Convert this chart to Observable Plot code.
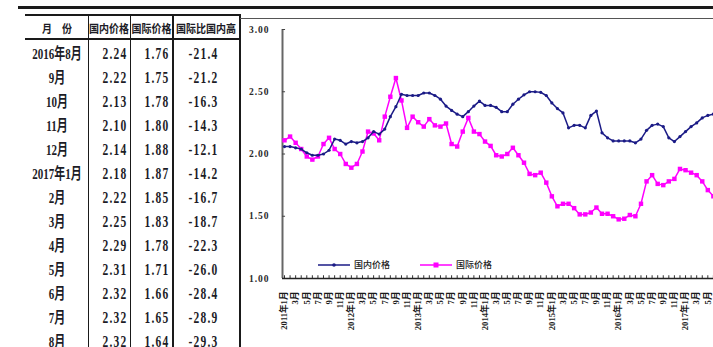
<!DOCTYPE html>
<html><head><meta charset="utf-8">
<script src="https://cdn.jsdelivr.net/npm/d3@7"></script>
<script src="https://cdn.jsdelivr.net/npm/@observablehq/plot@0.6"></script>
<style>
html,body{margin:0;padding:0;background:#fff;overflow:hidden;width:713px;height:347px}
#wrap{position:relative;width:713px;height:347px;overflow:hidden;background:#fff}
.ln{position:absolute;background:#1a1a1a}
.cell{position:absolute;white-space:nowrap;color:#1c1c26;font-family:'Liberation Serif','Noto Sans CJK SC',serif;font-weight:bold;transform-origin:center center}
#chart{position:absolute;left:240px;top:18px}
#chart g[aria-label="y-axis tick label"] text{font-family:'Liberation Serif',serif;font-weight:bold;font-size:9.5px;letter-spacing:1px;fill:#2a2a2a}
#chart g[aria-label="x-axis tick label"] text{font-family:'Liberation Serif','Noto Sans CJK SC',serif;font-weight:bold;font-size:8.6px;fill:#1a1a1a}
.leg{position:absolute;font-family:'Noto Sans CJK SC',sans-serif;font-weight:500;font-size:9px;color:#222;white-space:nowrap;line-height:12px}
</style></head><body><div id="wrap"></div>
<script>
// ---------- table data ----------
const tableHeaders = ["月　份", "国内价格", "国际价格", "国际比国内高"];
const tableMonths = ["2016年8月","9月","10月","11月","12月","2017年1月","2月","3月","4月","5月","6月","7月","8月"];
const tableDomestic = ["2.24","2.22","2.13","2.10","2.14","2.18","2.22","2.25","2.29","2.31","2.32","2.32","2.32"];
const tableIntl = ["1.76","1.75","1.78","1.80","1.88","1.87","1.85","1.83","1.78","1.71","1.66","1.65","1.64"];
const tableDiff = ["-21.4","-21.2","-16.3","-14.3","-12.1","-14.2","-16.7","-18.7","-22.3","-26.0","-28.4","-28.9","-29.3"];

// ---------- chart data (monthly, 2011年1月 .. 2017年8月) ----------
const startYear = 2011;
const seriesNames = ["国内价格", "国际价格"];
const domestic = [
  2.06, 2.06, 2.05, 2.04, 2.01, 1.99, 1.99, 2.00, 2.03, 2.12, 2.11, 2.08,
  2.10, 2.09, 2.10, 2.13, 2.18, 2.16, 2.20, 2.30, 2.38, 2.48, 2.47, 2.47,
  2.47, 2.49, 2.49, 2.47, 2.44, 2.385, 2.35, 2.32, 2.30, 2.34, 2.385, 2.425,
  2.39, 2.39, 2.375, 2.34, 2.34, 2.40, 2.44, 2.475, 2.50, 2.50, 2.495, 2.47,
  2.41, 2.365, 2.33, 2.21, 2.23, 2.23, 2.21, 2.31, 2.345, 2.17, 2.13, 2.105,
  2.105, 2.105, 2.105, 2.09, 2.12, 2.19, 2.23, 2.24, 2.22, 2.13, 2.10, 2.14,
  2.18, 2.22, 2.25, 2.29, 2.31, 2.32, 2.32, 2.32
];
const international = [
  2.11, 2.14, 2.09, 2.04, 1.98, 1.955, 1.98, 2.08, 2.13, 2.04, 2.00, 1.92,
  1.89, 1.92, 2.02, 2.18, 2.165, 2.11, 2.30, 2.46, 2.61, 2.43, 2.21, 2.30,
  2.255, 2.22, 2.28, 2.23, 2.22, 2.245, 2.08, 2.06, 2.18, 2.29, 2.18, 2.16,
  2.10, 2.065, 1.99, 1.98, 2.00, 2.05, 1.99, 1.93, 1.84, 1.83, 1.85, 1.77,
  1.66, 1.58, 1.60, 1.60, 1.565, 1.515, 1.515, 1.53, 1.57, 1.52, 1.52, 1.50,
  1.475, 1.48, 1.51, 1.50, 1.60, 1.78, 1.83, 1.76, 1.75, 1.78, 1.80, 1.88,
  1.87, 1.85, 1.83, 1.78, 1.71, 1.66, 1.65, 1.64
];
const yTicks = [1.00, 1.50, 2.00, 2.50, 3.00];
const colors = ["#1b1b86", "#ff00ff"];

const monthLabel = i => {
  const y = startYear + Math.floor(i / 12), m = i % 12 + 1;
  return m === 1 ? `${y}年1月` : `${m}月`;
};
const monthIdx = d3.range(domestic.length);
const xTickIdx = monthIdx.filter(i => i % 2 === 0);
const xTickLabels = xTickIdx.map(monthLabel);

const wrap = d3.select("#wrap");
function hline(x, y, w, h) { wrap.append("div").attr("class","ln").style("left",x+"px").style("top",y+"px").style("width",w+"px").style("height",h+"px"); }

// page decorations
hline(18, 6, 695, 3);          // thick top rule
hline(25, 14, 215, 2);         // table top
hline(25, 38, 215, 2);         // header bottom
hline(87.5, 14, 1.5, 333);     // column lines
hline(129.5, 14, 1.5, 333);
hline(172, 14, 1.5, 333);
hline(238.5, 14, 2, 333);      // chart frame left
wrap.append("div").attr("class","ln").style("left","240px").style("top","18px").style("width","473px").style("height","1px").style("background","#555");

// table cells
function cell(text, left, width, yc, align, size, sy, ls) {
  wrap.append("div").attr("class","cell")
    .style("left", left+"px").style("width", width+"px")
    .style("top", (yc-8)+"px").style("height","16px").style("line-height","16px")
    .style("text-align", align).style("font-size", size+"px")
    .style("letter-spacing", (ls||0)+"px")
    .style("transform", `scaleY(${sy})`)
    .text(text);
}
const hdrCols = [[25,64],[88,42],[130,43],[173,66]];
tableHeaders.forEach((h,k)=>cell(h, hdrCols[k][0], hdrCols[k][1], 29.5, "center", 10, 1.15, 0));
tableMonths.forEach((m,r)=>{
  const yc = 53 + 24*r;
  cell(m, 25, 64, yc, "center", 11, 1.4, 0);
  cell(tableDomestic[r], 86, 41.5, yc, "right", 11.5, 1.4, 1.2);
  cell(tableIntl[r], 128, 41.5, yc, "right", 11.5, 1.4, 1.2);
  cell(tableDiff[r], 172, 46.5, yc, "right", 11.5, 1.4, 1.2);
});

// chart
const domData = monthIdx.map(i => ({i, v: domestic[i], s: seriesNames[0]}));
const intlData = monthIdx.map(i => ({i, v: international[i], s: seriesNames[1]}));
const x0 = -0.36;
const chart = Plot.plot({
  width: 500, height: 329,
  marginLeft: 42, marginRight: 10.4, marginTop: 11, marginBottom: 69,
  x: {domain: [x0, 80]},
  y: {domain: [1, 3]},
  style: {background: "transparent", overflow: "visible"},
  marks: [
    Plot.ruleX([x0], {x: d => d, y1: 1, y2: 3, stroke: "#666", strokeWidth: 2}),
    Plot.ruleY(yTicks, {y: d => d, x1: x0, x2: x0 + 0.55, stroke: "#444", strokeWidth: 1}),
    Plot.ruleX(monthIdx, {x: d => d, y1: 1, y2: 1.022, stroke: "#333", strokeWidth: 1}),
    Plot.ruleY([1], {y: d => d, stroke: "#222", strokeWidth: 1.6}),
    Plot.axisY(yTicks, {anchor: "left", tickSize: 0, tickPadding: 13, tickFormat: d => d.toFixed(2), label: null}),
    Plot.axisX(xTickIdx, {anchor: "bottom", tickSize: 0, tickPadding: 13, tickRotate: -90,
      tickFormat: d => xTickLabels[xTickIdx.indexOf(d)], label: null}),
    Plot.line(intlData, {x: "i", y: "v", stroke: colors[1], strokeWidth: 1.5}),
    Plot.dot(intlData, {x: "i", y: "v", symbol: "square", r: 2.5, fill: colors[1], stroke: null}),
    Plot.line(domData, {x: "i", y: "v", stroke: colors[0], strokeWidth: 1.5}),
    Plot.dot(domData, {x: "i", y: "v", r: 1.6, fill: colors[0], stroke: null})
  ]
});
chart.id = "chart";
wrap.node().appendChild(chart);

// legend
function legend(name, color, square, left) {
  const g = wrap.append("div").attr("class","leg").style("left", left+"px").style("top","258px");
  const svg = g.append("svg").attr("width",34).attr("height",12).style("vertical-align","middle");
  svg.append("line").attr("x1",0).attr("x2",32).attr("y1",6).attr("y2",6).attr("stroke",color).attr("stroke-width",1.5);
  if (square) svg.append("rect").attr("x",13.5).attr("y",3.5).attr("width",5).attr("height",5).attr("fill",color);
  else svg.append("circle").attr("cx",16).attr("cy",6).attr("r",1.8).attr("fill",color);
  g.append("span").style("margin-left","2px").style("vertical-align","middle").text(name);
}
legend(seriesNames[0], colors[0], false, 318);
legend(seriesNames[1], colors[1], true, 420);
</script></body></html>
